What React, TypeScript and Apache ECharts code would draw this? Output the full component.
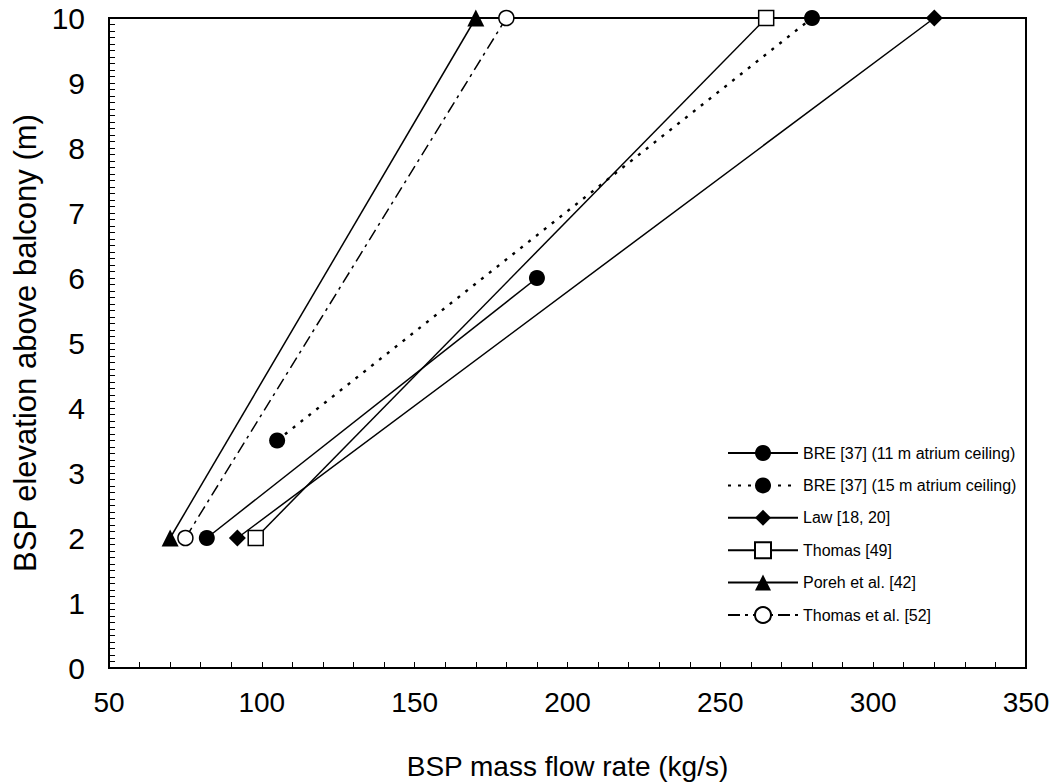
import React, { useEffect, useRef } from "react";
import * as echarts from "echarts";

// BSP mass flow rate (kg/s) against BSP elevation above balcony (m)
const seriesNames = [
  "BRE [37] (11 m atrium ceiling)",
  "BRE [37] (15 m atrium ceiling)",
  "Law [18, 20]",
  "Thomas [49]",
  "Poreh et al. [42]",
  "Thomas et al. [52]",
];

const bre11Flow = [82, 190];
const bre11Height = [2, 6];

const bre15Flow = [105, 280];
const bre15Height = [3.5, 10];

const lawFlow = [92, 320];
const lawHeight = [2, 10];

const thomasFlow = [98, 265];
const thomasHeight = [2, 10];

const porehFlow = [70, 170];
const porehHeight = [2, 10];

const thomasEtAlFlow = [75, 180];
const thomasEtAlHeight = [2, 10];

const xMin = 50;
const xMax = 350;
const xStep = 50;
const yMin = 0;
const yMax = 10;
const yStep = 1;

const FONT = "'Liberation Sans', Arial, sans-serif";

const pairs = (xs: number[], ys: number[]) => xs.map((x, i) => [x, ys[i]]);

export default function App() {
  const ref = useRef<HTMLDivElement>(null);

  useEffect(() => {
    if (!ref.current) return;
    const chart = echarts.init(ref.current, undefined, { renderer: "svg" });

    const line = (
      name: string,
      data: number[][],
      symbol: string,
      symbolSize: number,
      filled: boolean,
      dash: any,
      width = 1.5
    ) => ({
      name,
      type: "line",
      data,
      symbol,
      symbolSize,
      showSymbol: true,
      lineStyle: { color: "#000", width, type: dash },
      itemStyle: {
        color: filled ? "#000" : "#fff",
        borderColor: "#000",
        borderWidth: filled ? 0 : 1.5,
        opacity: 1,
      },
      emphasis: { disabled: true },
      z: 3,
    });

    chart.setOption({
      animation: false,
      backgroundColor: "#fff",
      textStyle: { fontFamily: FONT, color: "#000" },
      grid: {
        left: 109,
        right: 28,
        top: 18,
        bottom: 114,
        outerBoundsMode: "none",
        containLabel: false,
        show: true,
        borderColor: "#000",
        borderWidth: 2,
        backgroundColor: "transparent",
      },
      xAxis: {
        type: "value",
        min: xMin,
        max: xMax,
        interval: xStep,
        name: "BSP mass flow rate (kg/s)",
        nameLocation: "middle",
        nameGap: 84,
        nameTextStyle: { fontSize: 28, color: "#000", fontFamily: FONT },
        axisLine: { show: true, onZero: false, lineStyle: { color: "#000", width: 2 } },
        axisTick: { show: true, inside: true, length: 6, lineStyle: { color: "#000", width: 1 } },
        minorTick: { show: true, splitNumber: 5, length: 6, lineStyle: { color: "#000", width: 1 } },
        axisLabel: { fontSize: 28, color: "#000", margin: 20, fontFamily: FONT },
        splitLine: { show: false },
      },
      yAxis: {
        type: "value",
        min: yMin,
        max: yMax,
        interval: yStep,
        name: "BSP elevation above balcony (m)",
        nameLocation: "middle",
        nameGap: 64,
        nameRotate: 90,
        nameTextStyle: { fontSize: 31, color: "#000", fontFamily: FONT },
        axisLine: { show: true, onZero: false, lineStyle: { color: "#000", width: 2 } },
        axisTick: { show: true, inside: true, length: 6, lineStyle: { color: "#000", width: 1 } },
        minorTick: { show: true, splitNumber: 10, length: 6, lineStyle: { color: "#000", width: 1 } },
        axisLabel: { fontSize: 30, color: "#000", margin: 24, fontFamily: FONT },
        splitLine: { show: false },
      },
      legend: {
        orient: "vertical",
        left: 727,
        top: 443,
        itemWidth: 70,
        itemHeight: 20,
        itemGap: 12.4,
        padding: 0,
        textStyle: { fontSize: 16, color: "#000", fontFamily: FONT, lineHeight: 20 },
        data: seriesNames,
      },
      series: [
        line(seriesNames[0], pairs(bre11Flow, bre11Height), "circle", 16, true, "solid"),
        line(seriesNames[1], pairs(bre15Flow, bre15Height), "circle", 16, true, [3, 7], 2.4),
        line(seriesNames[2], pairs(lawFlow, lawHeight), "diamond", 17, true, "solid"),
        line(seriesNames[3], pairs(thomasFlow, thomasHeight), "rect", 15, false, "solid"),
        line(seriesNames[4], pairs(porehFlow, porehHeight), "triangle", 17, true, "solid"),
        line(seriesNames[5], pairs(thomasEtAlFlow, thomasEtAlHeight), "circle", 15, false, [12, 5, 3, 5]),
      ],
    });

    return () => chart.dispose();
  }, []);

  return (
    <div
      ref={ref}
      style={{ position: "fixed", left: 0, top: 0, width: 1054, height: 782, background: "#fff" }}
    />
  );
}
